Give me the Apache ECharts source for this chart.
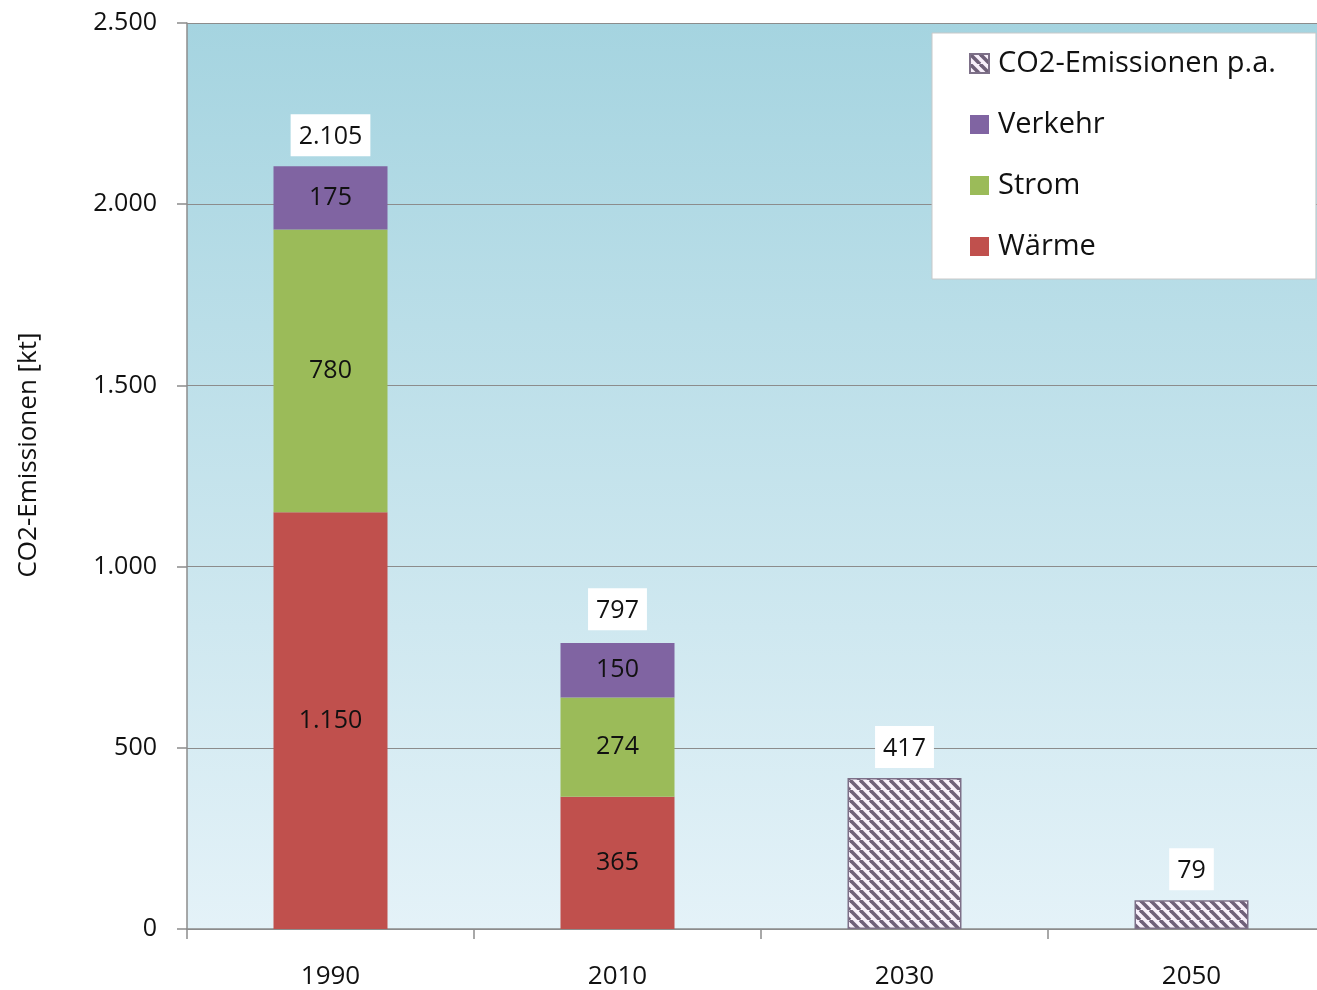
<!DOCTYPE html>
<html>
<head>
<meta charset="utf-8">
<script src="https://cdn.jsdelivr.net/npm/echarts@6/dist/echarts.min.js"></script>
<style>
  html, body { margin: 0; padding: 0; background: #fff; }
  #chart { width: 1317px; height: 990px; }
</style>
</head>
<body>
<div id="chart"></div>
<script>
const years = ['1990', '2010', '2030', '2050'];
const waerme = [1150, 365, null, null];
const strom = [780, 274, null, null];
const verkehr = [175, 150, null, null];
const prognose = [null, null, 417, 79];
const totals = [2105, 797, 417, 79];

const FONT = 'Open Sans';
const fmt = (v) => String(v).replace(/\B(?=(\d{3})+(?!\d))/g, '.');

// diagonal hatch for the projected values
function hatch() {
  const c = document.createElement('canvas');
  c.width = 10; c.height = 10;
  const ctx = c.getContext('2d');
  ctx.fillStyle = '#f8f0fb';
  ctx.fillRect(0, 0, 10, 10);
  ctx.strokeStyle = '#6f6079';
  ctx.lineWidth = 3.6;
  for (const o of [-10, 0, 10]) {
    ctx.beginPath();
    ctx.moveTo(o, 0);
    ctx.lineTo(o + 10, 10);
    ctx.stroke();
  }
  return c;
}

const chart = echarts.init(document.getElementById('chart'));

const inner = {
  show: true,
  position: 'inside',
  color: '#111',
  fontFamily: FONT,
  fontSize: 25,
  formatter: (p) => fmt(p.value)
};

const barBase = { type: 'bar', stack: 'ist', barWidth: 114, barGap: '-100%' };

chart.setOption({
  animation: false,
  textStyle: { fontFamily: FONT },
  grid: {
    left: 187, top: 23, right: -18, bottom: 61,
    outerBoundsMode: 'none',
    show: true, borderWidth: 0,
    backgroundColor: new echarts.graphic.LinearGradient(0, 0, 0, 1, [
      { offset: 0, color: '#a5d4e0' },
      { offset: 1, color: '#e4f2f8' }
    ])
  },
  legend: {
    orient: 'vertical',
    left: 932, top: 33,
    data: ['CO2-Emissionen p.a.', 'Verkehr', 'Strom', 'Wärme'],
    icon: 'rect',
    backgroundColor: '#fff',
    borderColor: '#c8c8c8',
    borderWidth: 1,
    padding: [16, 40, 18, 37],
    itemWidth: 19, itemHeight: 19,
    itemGap: 32,
    textStyle: { fontFamily: FONT, fontSize: 29, color: '#111', padding: [0, 0, 0, 4] }
  },
  xAxis: {
    type: 'category',
    data: years,
    axisLine: { lineStyle: { color: '#8c8c8c', width: 1.5 } },
    axisTick: { show: true, length: 10, lineStyle: { color: '#8c8c8c', width: 1.5 } },
    axisLabel: { color: '#111', fontSize: 26, fontFamily: FONT, margin: 35 }
  },
  yAxis: {
    type: 'value',
    min: 0, max: 2500, interval: 500,
    name: 'CO2-Emissionen [kt]',
    nameLocation: 'middle',
    nameGap: 145,
    nameTextStyle: { color: '#111', fontSize: 26, fontFamily: FONT, padding: [0, 0, 0, 42] },
    axisLine: { show: true, lineStyle: { color: '#8c8c8c', width: 1.5 } },
    axisTick: { show: true, length: 10, lineStyle: { color: '#8c8c8c', width: 1.5 } },
    axisLabel: { color: '#111', fontSize: 25, fontFamily: FONT, margin: 30, formatter: fmt },
    splitLine: { lineStyle: { color: '#8c8c8c', width: 1.2 } }
  },
  series: [
    Object.assign({}, barBase, { name: 'Wärme', data: waerme, itemStyle: { color: '#c0504d' }, label: inner }),
    Object.assign({}, barBase, { name: 'Strom', data: strom, itemStyle: { color: '#9bbb59' }, label: inner }),
    Object.assign({}, barBase, { name: 'Verkehr', data: verkehr, itemStyle: { color: '#8064a2' }, label: inner }),
    {
      type: 'bar', name: 'CO2-Emissionen p.a.', data: prognose,
      barWidth: 114, barGap: '-100%',
      itemStyle: { color: { image: hatch(), repeat: 'repeat' }, borderColor: '#7d7088', borderWidth: 1.5 }
    },
    {
      type: 'scatter', name: 'Summe', data: totals,
      symbolSize: 0, silent: true,
      itemStyle: { opacity: 1 },
      label: {
        show: true, position: 'top', distance: 10,
        formatter: (p) => fmt(p.value),
        color: '#111', fontFamily: FONT, fontSize: 25,
        backgroundColor: '#fff', padding: [10, 8, 7, 8]
      }
    }
  ]
});
</script>
</body>
</html>
